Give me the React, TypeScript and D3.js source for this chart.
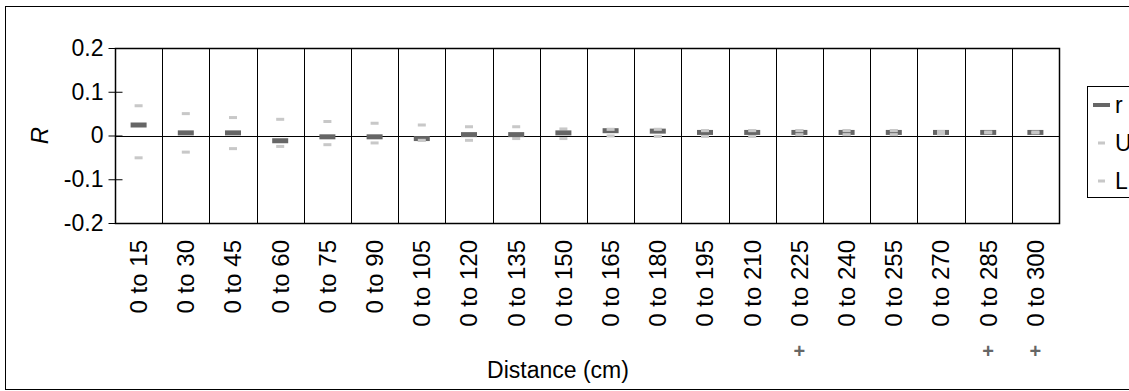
import React, { useEffect, useRef } from 'react';
import * as d3 from 'd3';

// Distance bins
const categories = [
  '0 to 15', '0 to 30', '0 to 45', '0 to 60', '0 to 75', '0 to 90', '0 to 105',
  '0 to 120', '0 to 135', '0 to 150', '0 to 165', '0 to 180', '0 to 195', '0 to 210',
  '0 to 225', '0 to 240', '0 to 255', '0 to 270', '0 to 285', '0 to 300',
];

// r, upper (U) and lower (L) bounds
const rValues = [
  0.024, 0.006, 0.006, -0.012, -0.003, -0.003, -0.007, 0.002, 0.002, 0.006,
  0.011, 0.010, 0.007, 0.007, 0.007, 0.007, 0.007, 0.007, 0.007, 0.007,
];
const upperValues = [
  0.068, 0.050, 0.041, 0.037, 0.032, 0.028, 0.024, 0.020, 0.020, 0.015,
  0.014, 0.014, 0.011, 0.011, 0.011, 0.011, 0.011, 0.009, 0.008, 0.008,
];
const lowerValues = [
  -0.051, -0.038, -0.030, -0.025, -0.021, -0.017, -0.011, -0.011, -0.007, -0.007,
  -0.001, -0.002, -0.002, -0.002, 0.002, 0.002, 0.002, 0.004, 0.006, 0.006,
];

// categories flagged with a "+" under the axis
const flagged = ['0 to 225', '0 to 285', '0 to 300'];

const yTicks = [-0.2, -0.1, 0, 0.1, 0.2];

const legendItems = ['r', 'U', 'L'];

const App = () => {
  const svgRef = useRef<SVGSVGElement>(null);

  useEffect(() => {
    const svg = d3.select(svgRef.current);
    svg.selectAll('*').remove();

    const width = 1129;
    const height = 391;
    const margin = { top: 48, right: 70, bottom: 168, left: 115 };
    const font = '"Liberation Sans", Arial, sans-serif';
    const markDark = '#666';
    const markLight = '#c8c8c8';

    // outer frame
    svg.append('rect')
      .attr('x', 5.5).attr('y', 6.5)
      .attr('width', width).attr('height', 383)
      .attr('fill', '#fff').attr('stroke', '#000').attr('stroke-width', 1);

    const x = d3.scaleBand()
      .domain(categories)
      .range([margin.left, width - margin.right])
      .padding(0);

    const y = d3.scaleLinear()
      .domain([-0.2, 0.2])
      .range([height - margin.bottom, margin.top]);

    const x0 = margin.left;
    const x1 = width - margin.right;

    // category dividers
    svg.append('g')
      .selectAll('line')
      .data(categories.slice(1))
      .join('line')
      .attr('x1', d => Math.round(x(d)!) + 0.5)
      .attr('x2', d => Math.round(x(d)!) + 0.5)
      .attr('y1', y(0.2))
      .attr('y2', y(-0.2))
      .attr('stroke', '#000');

    // plot border
    svg.append('rect')
      .attr('x', x0 + 0.5).attr('y', Math.round(y(0.2)) + 0.5)
      .attr('width', x1 - x0).attr('height', Math.round(y(-0.2)) - Math.round(y(0.2)))
      .attr('fill', 'none').attr('stroke', '#000').attr('stroke-width', 1.5);

    // zero line
    svg.append('line')
      .attr('x1', x0).attr('x2', x1)
      .attr('y1', Math.round(y(0)) + 0.5).attr('y2', Math.round(y(0)) + 0.5)
      .attr('stroke', '#000');

    // y axis
    const yAxis = svg.append('g')
      .attr('transform', `translate(${x0 + 0.5},0)`)
      .call(d3.axisLeft(y).tickValues(yTicks).tickSize(7).tickSizeOuter(0)
        .tickFormat(d => (+d === 0 ? '0' : d3.format('.1f')(+d).replace('−', '-'))));
    yAxis.select('.domain').remove();
    yAxis.selectAll('line').attr('stroke', '#000').attr('x2', 7).attr('x1', -7);
    yAxis.selectAll('text')
      .attr('x', -12)
      .style('font-family', font)
      .style('font-size', '23px')
      .attr('fill', '#000');

    // y label
    svg.append('text')
      .attr('transform', `translate(40,${y(0)}) rotate(-90)`)
      .attr('text-anchor', 'middle')
      .attr('dy', '0.35em')
      .style('font-family', font)
      .style('font-size', '24px')
      .style('font-style', 'italic')
      .text('R');

    const cx = (c: string) => x(c)! + x.bandwidth() / 2;

    const bounds = [
      ...categories.map((c, i) => ({ c, v: upperValues[i] })),
      ...categories.map((c, i) => ({ c, v: lowerValues[i] })),
    ];

    // U and L marks
    svg.append('g')
      .selectAll('rect')
      .data(bounds)
      .join('rect')
      .attr('x', d => cx(d.c) - 4)
      .attr('y', d => y(d.v) - 1.5)
      .attr('width', 8)
      .attr('height', 3)
      .attr('fill', markLight);

    // r marks
    svg.append('g')
      .selectAll('rect')
      .data(categories)
      .join('rect')
      .attr('x', d => cx(d) - 8)
      .attr('y', (d, i) => y(rValues[i]) - 2.5)
      .attr('width', 16)
      .attr('height', 5)
      .attr('fill', markDark);

    // U/L marks that sit on top of r stay visible
    svg.append('g')
      .selectAll('rect')
      .data(bounds.filter(d => {
        const i = categories.indexOf(d.c);
        return Math.abs(y(d.v) - y(rValues[i])) < 3;
      }))
      .join('rect')
      .attr('x', d => cx(d.c) - 4)
      .attr('y', d => y(d.v) - 1.5)
      .attr('width', 8)
      .attr('height', 3)
      .attr('fill', markLight);

    // x labels
    svg.append('g')
      .selectAll('text')
      .data(categories)
      .join('text')
      .attr('transform', d => `translate(${cx(d)},${y(-0.2) + 17}) rotate(-90)`)
      .attr('text-anchor', 'end')
      .attr('dy', '0.35em')
      .style('font-family', font)
      .style('font-size', '24px')
      .text(d => d);

    // flags
    svg.append('g')
      .selectAll('text')
      .data(flagged)
      .join('text')
      .attr('x', d => cx(d))
      .attr('y', 351)
      .attr('dy', '0.35em')
      .attr('text-anchor', 'middle')
      .style('font-family', font)
      .style('font-size', '20px')
      .style('font-weight', 'bold')
      .attr('fill', markDark)
      .text('+');

    // x title
    svg.append('text')
      .attr('x', 558)
      .attr('y', 378)
      .attr('text-anchor', 'middle')
      .style('font-family', font)
      .style('font-size', '23px')
      .text('Distance (cm)');

    // legend
    const lg = svg.append('g').attr('transform', 'translate(1087,86)');
    lg.append('rect')
      .attr('x', 0.5).attr('y', 0.5)
      .attr('width', 60).attr('height', 111)
      .attr('fill', '#fff').attr('stroke', '#000');
    legendItems.forEach((item, i) => {
      const ly = 19 + i * 38;
      if (item === 'r') {
        lg.append('rect').attr('x', 6).attr('y', ly - 2).attr('width', 17).attr('height', 4).attr('fill', markDark);
      } else {
        lg.append('rect').attr('x', 11).attr('y', ly - 1.5).attr('width', 7).attr('height', 3).attr('fill', markLight);
      }
      lg.append('text')
        .attr('x', 28)
        .attr('y', ly)
        .attr('dy', '0.35em')
        .style('font-family', font)
        .style('font-size', '23px')
        .text(item);
    });
  }, []);

  return (
    <svg
      ref={svgRef}
      width={1129}
      height={391}
      style={{ position: 'absolute', left: 0, top: 0, background: '#fff' }}
    />
  );
};

export default App;
